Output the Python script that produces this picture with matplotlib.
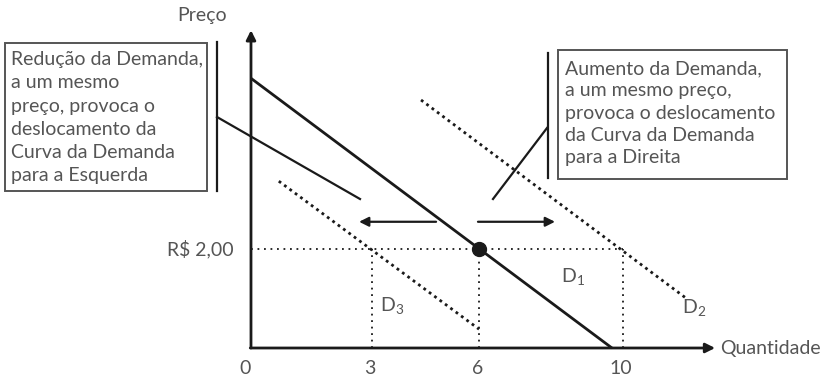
import matplotlib
matplotlib.use("Agg")
import matplotlib.pyplot as plt
from matplotlib.patches import Rectangle
from matplotlib.lines import Line2D

# --- chart data -----------------------------------------------------------
q_ticks = [3, 6, 10]
q_tick_labels = ["3", "6", "10"]
price_level = 2.00
price_label = "R$ 2,00"

# demand curves: end points (quantity, price)
d1_q = [-0.38, 9.70]
d1_p = [5.45, 0.00]
d2_q = [4.37, 11.80]
d2_p = [5.01, 0.99]
d3_q = [0.40, 5.99]
d3_p = [3.37, 0.38]

equilibrium_q = 6
equilibrium_p = 2.00

# shift arrows (quantity from -> to, at price level)
arrow_left_q = [4.79, 2.64]
arrow_right_q = [5.96, 8.11]
arrow_p = 2.55

left_text = ("Redução da Demanda,\na um mesmo\npreço, provoca o\n"
             "deslocamento da\nCurva da Demanda\npara a Esquerda")
right_text = ("Aumento da Demanda,\na um mesmo preço,\nprovoca o deslocamento\n"
              "da Curva da Demanda\npara a Direita")

FONT = ["Lato", "DejaVu Sans"]
WEIGHT = "normal"
TXT = "#555555"
INK = "#1a1a1a"

W, H = 824, 378
fig = plt.figure(figsize=(W / 100, H / 100), dpi=100)
ax = fig.add_axes([0, 0, 1, 1])
ax.set_xlim(-7.384, 15.62)
ax.set_ylim(-0.606, 7.030)
ax.axis("off")

x_axis_q0 = -0.377   # position of the vertical axis
y_top = 6.42
x_right = 12.58


def fpx(x, y):
    """pixel position -> figure fraction"""
    return x / W, 1 - y / H


# axes with arrow heads
ax.annotate("", xy=(x_axis_q0, y_top), xytext=(x_axis_q0, 0),
            arrowprops=dict(arrowstyle="-|>", color=INK, lw=2.0,
                            mutation_scale=14, shrinkA=0, shrinkB=0))
ax.annotate("", xy=(x_right, 0), xytext=(x_axis_q0 - 0.02, 0),
            arrowprops=dict(arrowstyle="-|>", color=INK, lw=2.0,
                            mutation_scale=14, shrinkA=0, shrinkB=0))

# guide lines at the price level
dot_ref = dict(color=INK, lw=1.3, linestyle=(0, (1, 2.6)))
ax.plot([x_axis_q0, max(q_ticks)], [price_level, price_level], **dot_ref)
for q in q_ticks:
    ax.plot([q, q], [0, price_level], **dot_ref)

# demand curves
ax.plot(d1_q, d1_p, color=INK, lw=2.0, solid_capstyle="butt")
dot_curve = dict(color=INK, lw=2.0, linestyle=(0, (1, 1.4)))
ax.plot(d2_q, d2_p, **dot_curve)
ax.plot(d3_q, d3_p, **dot_curve)

ax.plot([equilibrium_q], [equilibrium_p], "o", color=INK, markersize=10)

# shift arrows
for q0, q1 in (arrow_left_q, arrow_right_q):
    ax.annotate("", xy=(q1, arrow_p), xytext=(q0, arrow_p),
                arrowprops=dict(arrowstyle="-|>", color=INK, lw=1.6,
                                mutation_scale=14, shrinkA=0, shrinkB=0))

# tick labels
base = dict(family=FONT, weight=WEIGHT, color=TXT)
tk = dict(fontsize=14, ha="center", va="center", **base)
ax.text(x_axis_q0 - 0.17, -0.42, "0", **tk)
for q, lab in zip(q_ticks, q_tick_labels):
    ax.text(q - 0.05, -0.42, lab, **tk)
ax.text(-0.85, price_level, price_label, fontsize=14,
        ha="right", va="center", **base)
fig.text(*fpx(202, 15), "Preço", fontsize=14, ha="center", va="center", **base)
ax.text(12.72, 0, "Quantidade", fontsize=14, ha="left", va="center", **base)

# curve labels
lab = dict(fontsize=14, ha="center", va="center", **base)
ax.text(8.6, 1.42, r"D$_\mathregular{1}$", **lab)
ax.text(12.0, 0.80, r"D$_\mathregular{2}$", **lab)
ax.text(3.55, 0.84, r"D$_\mathregular{3}$", **lab)

# explanatory boxes
box_kw = dict(transform=fig.transFigure, fill=False, edgecolor="#555555", lw=1.4)
fig.patches.append(Rectangle(fpx(5, 191), 202 / W, 148 / H, **box_kw))
fig.patches.append(Rectangle(fpx(558, 179), 229 / W, 129 / H, **box_kw))
fig.text(*fpx(11, 51), left_text, fontsize=14, ha="left", va="top",
         linespacing=1.45, **base)
fig.text(*fpx(565, 60), right_text, fontsize=14, ha="left", va="top",
         linespacing=1.38, **base)

# bars and leader lines
for (x0, y0), (x1, y1) in [((217, 42), (217, 191)), ((548, 53), (548, 178)),
                           ((217, 117), (360, 199)), ((493, 199), (547, 128))]:
    fig.add_artist(Line2D([x0 / W, x1 / W], [1 - y0 / H, 1 - y1 / H],
                          transform=fig.transFigure, color=INK, lw=1.6))

fig.savefig("out.png", dpi=100)
